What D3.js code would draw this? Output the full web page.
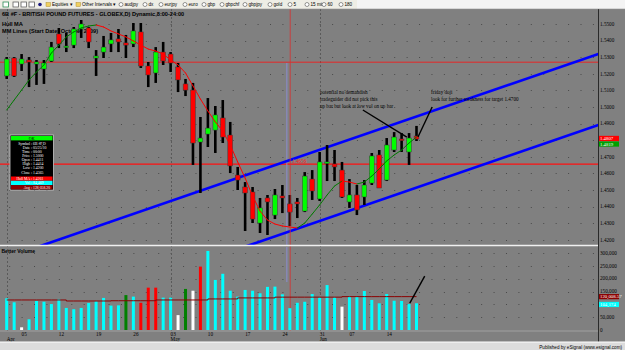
<!DOCTYPE html>
<html>
<head>
<meta charset="utf-8">
<script src="https://cdn.jsdelivr.net/npm/d3@7"></script>
<style>
  body { margin: 0; background: #808080; overflow: hidden; }
  svg { display: block; }
  text { font-family: "Liberation Serif", serif; }
</style>
</head>
<body>
<div id="chart"></div>
<script>
// ---- daily bars, 6B #F (01 Apr - 18 Jun) ----
const opens = [1.5187,1.5295,1.5259,1.5283,1.5259,1.5229,1.5277,1.5440,1.5361,1.5373,
  1.5470,1.5476,1.5295,1.5331,1.5380,1.5410,1.5386,1.5380,1.5452,1.5247,
  1.5205,1.5331,1.5319,1.5241,1.5139,1.5102,1.4789,1.4837,1.4861,1.4934,
  1.4831,1.4590,1.4518,1.4488,1.4301,1.4452,1.4349,1.4464,1.4416,1.4428,
  1.4373,1.4566,1.4446,1.4663,1.4657,1.4620,1.4428,1.4470,1.4458,1.4542,
  1.4711,1.4560,1.4741,1.4807,1.4729,1.4825];
const highs = [1.5301,1.5301,1.5319,1.5301,1.5283,1.5283,1.5392,1.5476,1.5446,1.5482,
  1.5524,1.5482,1.5343,1.5428,1.5446,1.5470,1.5434,1.5506,1.5506,1.5271,
  1.5361,1.5392,1.5331,1.5265,1.5169,1.5145,1.4940,1.5054,1.5006,1.5042,
  1.4910,1.4639,1.4548,1.4518,1.4452,1.4470,1.4506,1.4530,1.4470,1.4452,
  1.4608,1.4620,1.4729,1.4771,1.4741,1.4669,1.4566,1.4530,1.4560,1.4723,
  1.4741,1.4813,1.4849,1.4843,1.4843,1.4886];
const lows = [1.5169,1.5181,1.5217,1.5120,1.5133,1.5139,1.5271,1.5355,1.5331,1.5355,
  1.5416,1.5355,1.5187,1.5295,1.5331,1.5331,1.5295,1.5361,1.5235,1.5120,
  1.5145,1.5253,1.5211,1.5090,1.5066,1.4651,1.4482,1.4759,1.4723,1.4783,
  1.4602,1.4500,1.4253,1.4301,1.4241,1.4229,1.4325,1.4361,1.4283,1.4331,
  1.4367,1.4440,1.4434,1.4554,1.4554,1.4452,1.4392,1.4349,1.4410,1.4530,
  1.4512,1.4554,1.4729,1.4729,1.4651,1.4795];
const closes = [1.5289,1.5187,1.5289,1.5271,1.5271,1.5265,1.5361,1.5380,1.5367,1.5470,
  1.5500,1.5392,1.5307,1.5361,1.5404,1.5392,1.5373,1.5458,1.5247,1.5193,
  1.5331,1.5277,1.5265,1.5163,1.5102,1.4783,1.4813,1.4873,1.4952,1.4819,
  1.4645,1.4560,1.4482,1.4325,1.4392,1.4428,1.4470,1.4452,1.4367,1.4416,
  1.4584,1.4494,1.4669,1.4669,1.4639,1.4458,1.4470,1.4380,1.4530,1.4705,
  1.4512,1.4771,1.4819,1.4801,1.4813,1.4807];

// Hull moving average
const hull = [1.4982,1.5042,1.5102,1.5163,1.5211,1.5253,1.5325,1.5373,1.5422,1.5452,
  1.5476,1.5488,1.5494,1.5482,1.5458,1.5440,1.5422,1.5398,1.5373,1.5349,
  1.5337,1.5319,1.5283,1.5253,1.5205,1.5127,1.5048,1.4976,1.4910,1.4855,
  1.4771,1.4669,1.4572,1.4464,1.4373,1.4319,1.4295,1.4283,1.4277,1.4271,
  1.4301,1.4355,1.4410,1.4470,1.4524,1.4554,1.4548,1.4536,1.4548,1.4584,
  1.4627,1.4675,1.4711,1.4741,1.4783,1.4819];

// Better Volume (contracts) and its bar type
const volume = [123500,108000,10500,41700,113000,110000,101000,121000,86000,81000,
  86000,105000,112000,125000,95000,96000,136000,130000,106000,165000,
  165000,126000,126000,58000,160000,153000,247000,308000,195000,219000,
  153000,130000,156000,153000,143000,168000,169000,139000,85000,106000,
  110000,140000,127000,175000,127000,91000,130000,130000,152000,117000,
  104000,140000,114000,113000,101000,104174];
const volType = ["n","n","low","n","n","n","n","n","n","n",
  "n","n","n","n","n","n","churn","n","climax","climax",
  "climax","n","n","low","churn","low","climax","n","n","n",
  "n","n","n","n","n","n","n","n","n","n",
  "n","n","n","n","n","low","n","n","n","n",
  "n","n","n","n","n","n"];
const volAvg = [117000,117000,117000,117000,117000,117000,117000,117000,113000,113000,
  113000,113000,113000,113000,114000,114000,114000,114000,114000,114000,
  117000,117000,117000,117000,117000,117000,117000,121000,121000,121000,
  121000,125000,125000,125000,125000,125000,128000,128000,128000,128000,
  128000,128000,128000,128000,128000,130000,130000,130000,130000,130000,
  130000,130000,130000,130000,130000,130000];

// axis labels
const priceTicks = [1.42,1.43,1.44,1.45,1.46,1.47,1.48,1.49,1.50,1.51,1.52,1.53,1.54,1.55];
const volTicks = [0,50000,100000,150000,200000,250000,300000];
const dayLabels = ["05","12","19","26","03","10","17","24","31","07","14"];
const dayIdx = [2,7,12,17,22,27,32,37,42,46,51];
const monthLabels = ["Apr","May","Jun"];
const monthIdx = [0,22,42];

// drawn objects (bar index, price)
const upperChannel = [[0,1.4093],[80,1.5329]];
const lowerChannel = [[30,1.4128],[80,1.4901]];
const hLines = [1.5270, 1.4656];
const note1 = ["potential no demandish","tradeguider did not pick this","up bar but look at low vol on up bar"];
const note2 = ["friday doji","look for further weakness for target 1.4700"];

const W = 625, H = 350;
const panelTop = 9, priceBottom = 245, volTop = 247, volBottom = 331, axisX = 598;

const svg = d3.select("#chart").append("svg")
  .attr("width", W).attr("height", H);

// scales
const x = d3.scaleLinear().domain([0, 55]).range([6.7, 416.5]);
const y = d3.scaleLinear().domain([1.42, 1.55]).range([239.8, 24]);
const yv = d3.scaleLinear().domain([0, 300000]).range([330, 253]);

// background
svg.append("rect").attr("width", W).attr("height", H).attr("fill", "#808080");

// clip paths
const defs = svg.append("defs");
defs.append("clipPath").attr("id", "pclip").append("rect")
  .attr("x", 0).attr("y", panelTop).attr("width", axisX).attr("height", priceBottom - panelTop);
defs.append("clipPath").attr("id", "vclip").append("rect")
  .attr("x", 0).attr("y", volTop).attr("width", axisX).attr("height", volBottom - volTop);

const gridDash = "1 " + ((x(7) - x(2)) / 3 - 1).toFixed(2);

// dotted grid
svg.append("g").selectAll("line").data(priceTicks).join("line")
  .attr("x1", x(2) - (x(7) - x(2))).attr("x2", axisX)
  .attr("y1", d => Math.round(y(d)) + 0.5).attr("y2", d => Math.round(y(d)) + 0.5)
  .attr("stroke", "#4a4a4a").attr("stroke-dasharray", gridDash);
svg.append("g").selectAll("line").data(volTicks.slice(1)).join("line")
  .attr("x1", x(2) - (x(7) - x(2))).attr("x2", axisX)
  .attr("y1", d => Math.round(yv(d)) + 0.5).attr("y2", d => Math.round(yv(d)) + 0.5)
  .attr("stroke", "#4a4a4a").attr("stroke-dasharray", gridDash);

// month separators
svg.append("g").selectAll("line").data(monthIdx).join("line")
  .attr("x1", d => Math.round(x(d)) + 0.5).attr("x2", d => Math.round(x(d)) + 0.5)
  .attr("y1", panelTop).attr("y2", volBottom)
  .attr("stroke", "#5a5a5a").attr("stroke-dasharray", "2 2");

// titles
const sans = "Liberation Sans, Arial, sans-serif";
svg.append("text").attr("x", 2).attr("y", 15.5)
  .style("font-family", sans).style("font-size", "5.6px").style("font-weight", "bold")
  .text("6B #F - BRITISH POUND FUTURES - GLOBEX,D) Dynamic,8:00-24:00");
svg.append("text").attr("x", 2).attr("y", 25.5)
  .style("font-family", sans).style("font-size", "5.6px").style("font-weight", "bold")
  .text("Hull MA");
svg.append("text").attr("x", 2).attr("y", 32.5)
  .style("font-family", sans).style("font-size", "5.6px").style("font-weight", "bold")
  .text("MM Lines (Start Date: October 2009)");

const pg = svg.append("g").attr("clip-path", "url(#pclip)");

// horizontal levels
pg.selectAll(".hl").data(hLines).join("line")
  .attr("x1", 0).attr("x2", axisX)
  .attr("y1", d => y(d)).attr("y2", d => y(d))
  .attr("stroke", "#ff1010").attr("stroke-width", (d, i) => i === 0 ? 0.8 : 1.4);

// crosshair
pg.append("line").attr("x1", x(37.6)).attr("x2", x(37.6)).attr("y1", y(1.5265)).attr("y2", priceBottom)
  .attr("stroke", "#8c8cd0").attr("stroke-width", 1);
svg.append("line").attr("x1", x(38.05)).attr("x2", x(38.05)).attr("y1", panelTop).attr("y2", volBottom)
  .attr("stroke", "#d83030").attr("stroke-width", 0.8);
svg.append("line").attr("x1", x(37.6)).attr("x2", x(37.6)).attr("y1", volTop).attr("y2", 282)
  .attr("stroke", "#8c8cd0").attr("stroke-width", 1);

svg.append("text").attr("x", x(38.3)).attr("y", y(1.4656) - 1.2)
  .attr("fill", "#ff2020").style("font-size", "5.2px").text("1.4656");

// channel
const chLine = d3.line().x(d => x(d[0])).y(d => y(d[1]));
pg.selectAll(".ch").data([upperChannel, lowerChannel]).join("path")
  .attr("d", chLine).attr("fill", "none")
  .attr("stroke", "#0000ff").attr("stroke-width", 2.6);

// candles
const bars = d3.range(opens.length).map(i => ({
  i, o: opens[i], h: highs[i], l: lows[i], c: closes[i]
}));
const cg = pg.append("g");
cg.selectAll(".wick").data(bars).join("line")
  .attr("x1", d => x(d.i)).attr("x2", d => x(d.i))
  .attr("y1", d => y(d.h)).attr("y2", d => y(d.l))
  .attr("stroke", "#000").attr("stroke-width", 2.6);
cg.selectAll(".body").data(bars).join("rect")
  .attr("x", d => x(d.i) - 2.4).attr("width", 4.8)
  .attr("y", d => y(Math.max(d.o, d.c)))
  .attr("height", d => Math.max(1.6, Math.abs(y(d.o) - y(d.c))))
  .attr("fill", d => d.c >= d.o ? "#00ff00" : "#ff0000")
  .attr("stroke", "#3c3c3c").attr("stroke-width", 0.5);

// Hull MA, green when rising, red when falling
const hullSeg = d3.range(1, hull.length).map(i => ({ a: i - 1, b: i, up: hull[i] >= hull[i - 1] }));
pg.selectAll(".hull").data(hullSeg).join("line")
  .attr("x1", d => x(d.a)).attr("y1", d => y(hull[d.a]))
  .attr("x2", d => x(d.b)).attr("y2", d => y(hull[d.b]))
  .attr("stroke", d => d.up ? "#007a00" : "#ff0000").attr("stroke-width", 1)
  .attr("stroke-linecap", "round");

// annotations
const arrows = [[[47.8, 1.4982], [53.7, 1.4819]], [[57.1, 1.5000], [55.2, 1.4819]]];
svg.selectAll(".arrow").data(arrows).join("path")
  .attr("d", chLine).attr("stroke", "#000").attr("stroke-width", 1.4).attr("fill", "none");
svg.append("g").selectAll("text").data(note1).join("text")
  .attr("x", x(42.05)).attr("y", (d, i) => y(1.5086) + 1.5 + i * 6.8)
  .style("font-size", "5.1px").text(d => d);
svg.append("g").selectAll("text").data(note2).join("text")
  .attr("x", x(56.95)).attr("y", (d, i) => y(1.5086) + 1.5 + i * 6.8)
  .style("font-size", "5.1px").text(d => d);

// info window
const info = svg.append("g").attr("transform", "translate(10,135)");
info.append("rect").attr("width", 43.5).attr("height", 55).attr("fill", "#000")
  .attr("stroke", "#c8c8c8").attr("stroke-width", 0.8);
info.append("rect").attr("x", 1).attr("y", 1).attr("width", 41.5).attr("height", 4.4).attr("fill", "#00ff00");
info.append("text").attr("x", 21.7).attr("y", 4.6).attr("text-anchor", "middle")
  .style("font-size", "4px").text("OK");
const infoRows = [["Symbol", "6B #F,D"], ["Date", "05/25/10"], ["Time", "00:00"], ["Price", "1.5000"],
  ["Open", "1.4411"], ["High", "1.4414"], ["Low", "1.4200"], ["Close", "1.4365"]];
const infoBands = [["Hull MA", "1.4261", "#ff0000"], ["Vol", "84,469", "#00ffff"], ["Avg", "128,058.20", "#8b0000"]];
infoRows.forEach((r, i) => {
  info.append("text").attr("x", 22).attr("y", 9.8 + i * 4.1).attr("text-anchor", "end")
    .attr("fill", "#fff").style("font-size", "3.8px").text(r[0] + " :");
  info.append("text").attr("x", 23).attr("y", 9.8 + i * 4.1)
    .attr("fill", "#fff").style("font-size", "3.8px").text(r[1]);
});
infoBands.forEach((r, i) => {
  info.append("rect").attr("x", 1).attr("y", 41.5 + i * 4.3).attr("width", 41.5).attr("height", 4.3).attr("fill", r[2]);
  info.append("text").attr("x", 22).attr("y", 44.9 + i * 4.3).attr("text-anchor", "end")
    .attr("fill", "#fff").style("font-size", "3.8px").text(r[0] + " :");
  info.append("text").attr("x", 23).attr("y", 44.9 + i * 4.3)
    .attr("fill", "#fff").style("font-size", "3.8px").text(r[1]);
});

// panel separator
svg.append("line").attr("x1", 0).attr("x2", axisX).attr("y1", 245.5).attr("y2", 245.5)
  .attr("stroke", "#f0f0f0").attr("stroke-width", 1.5);

// volume panel
svg.append("text").attr("x", 1.5).attr("y", 252.5)
  .style("font-family", sans).style("font-size", "5px").style("font-weight", "bold")
  .text("Better Volume");
const volColor = { n: "#00ffff", low: "#ffffff", climax: "#ff0000", churn: "#008000" };
const vg = svg.append("g").attr("clip-path", "url(#vclip)");
vg.selectAll(".vbar").data(volume).join("rect")
  .attr("x", (d, i) => x(i) - 1.5).attr("width", 3)
  .attr("y", d => yv(d)).attr("height", d => yv(0) - yv(d))
  .attr("fill", (d, i) => volColor[volType[i]]);
vg.append("path").datum(volAvg)
  .attr("d", d3.line().x((d, i) => x(i)).y(d => yv(d)).curve(d3.curveStepAfter))
  .attr("fill", "none").attr("stroke", "#8b0000").attr("stroke-width", 1);
svg.append("path").datum([[54.1, 105000], [56.1, 210000]])
  .attr("d", d3.line().x(d => x(d[0])).y(d => yv(d[1])))
  .attr("stroke", "#000").attr("stroke-width", 1.4);

svg.append("line").attr("x1", 0).attr("x2", axisX).attr("y1", 331).attr("y2", 331)
  .attr("stroke", "#a8a8a8").attr("stroke-width", 0.8);

// value flags on the right axis (they hide the tick labels beneath them)
const lastClose = closes[closes.length - 1];
const flags = [
  { top: y(lastClose) - 3.2, txt: d3.format(".4f")(lastClose), bg: "#ff0000" },
  { top: y(lastClose) + 2.4, txt: d3.format(".4f")(hull[hull.length - 1]), bg: "#00a000" },
  { top: yv(volAvg[volAvg.length - 1]) - 2.6, txt: "120,008.57", bg: "#8b0000" },
  { top: yv(volume[volume.length - 1]) - 1.4, txt: d3.format(",")(volume[volume.length - 1]), bg: "#00ffff" }
];
const hidden = yy => flags.some(f => yy > f.top - 2.5 && yy < f.top + 7.5);

// right axis
svg.append("line").attr("x1", axisX + 0.5).attr("x2", axisX + 0.5).attr("y1", panelTop).attr("y2", 342)
  .attr("stroke", "#2a2a2a").attr("stroke-width", 1);
svg.append("g").selectAll("text").data(priceTicks.filter(d => !hidden(y(d)))).join("text")
  .attr("x", axisX + 2).attr("y", d => y(d) + 1.8)
  .style("font-size", "5.2px").text(d3.format(".4f"));
svg.append("g").selectAll("text").data(volTicks.filter(d => !hidden(yv(d)))).join("text")
  .attr("x", axisX + 2).attr("y", d => yv(d) + 1.8)
  .style("font-size", "5.2px").text(d3.format(","));

flags.forEach(f => {
  svg.append("rect").attr("x", axisX + 1).attr("y", f.top).attr("width", 20).attr("height", 5.2).attr("fill", f.bg);
  svg.append("text").attr("x", axisX + 2).attr("y", f.top + 4.2).attr("fill", "#ffffff")
    .style("font-size", "4.8px").text(f.txt);
});

// date axis
svg.append("g").selectAll("text").data(dayLabels).join("text")
  .attr("x", (d, i) => x(dayIdx[i])).attr("y", 336)
  .style("font-size", "5.2px").text(d => d);
svg.append("g").selectAll("text").data(monthLabels).join("text")
  .attr("x", (d, i) => x(monthIdx[i])).attr("y", 341)
  .style("font-size", "5.2px").text(d => d);

// bottom strip
svg.append("rect").attr("x", 0).attr("y", 342).attr("width", W).attr("height", 8).attr("fill", "#dcdcdc");
svg.append("line").attr("x1", 0).attr("x2", W).attr("y1", 342).attr("y2", 342).attr("stroke", "#ffffff");
svg.append("text").attr("x", 622).attr("y", 348.5).attr("text-anchor", "end")
  .style("font-family", sans).style("font-size", "4.6px")
  .text("Published by eSignal (www.esignal.com)");

// toolbar
const tb = svg.append("g");
tb.append("rect").attr("width", W).attr("height", 9).attr("fill", "#f4f4f4");
tb.append("rect").attr("width", 357).attr("height", 9).attr("fill", "#eeede5");
tb.append("line").attr("x1", 0).attr("x2", W).attr("y1", 8.8).attr("y2", 8.8).attr("stroke", "#a0a0a0").attr("stroke-width", 0.5);
[[3, "#2e8b57"], [13, "#606060"], [21, "#606060"], [29, "#606060"]].forEach(d => {
  tb.append("rect").attr("x", d[0]).attr("y", 2).attr("width", 5.5).attr("height", 5).attr("fill", "#fff")
    .attr("stroke", d[1]).attr("stroke-width", 0.8);
});
tb.append("circle").attr("cx", 40).attr("cy", 4.5).attr("r", 1.8).attr("fill", "#1a1a80");
const menus = [[46, "Equities \u25BE"], [76, "Other Intervals \u25BE"]];
menus.forEach(m => {
  tb.append("rect").attr("x", m[0]).attr("y", 2.5).attr("width", 4.5).attr("height", 4).attr("fill", "#f0d060").attr("stroke", "#a08020").attr("stroke-width", 0.4);
  tb.append("text").attr("x", m[0] + 6).attr("y", 6.4)
    .style("font-family", sans).style("font-size", "4.6px").text(m[1]);
});
const shortcuts = [[119, "audjpy"], [143, "dx"], [159, "eurjpy"], [183, "euro"], [202, "gbp"], [220, "gbpchf"],
  [243, "gbpjpy"], [268, "gold"], [288, "5"], [305, "15 min"], [322, "60"], [339, "180"]];
shortcuts.forEach(s => {
  tb.append("circle").attr("cx", s[0] + 2).attr("cy", 4.5).attr("r", 2).attr("fill", "#fff").attr("stroke", "#333").attr("stroke-width", 0.5);
  tb.append("text").attr("x", s[0] + 5.5).attr("y", 6.4)
    .style("font-family", sans).style("font-size", "4.6px").text(s[1]);
});
</script>
</body>
</html>
